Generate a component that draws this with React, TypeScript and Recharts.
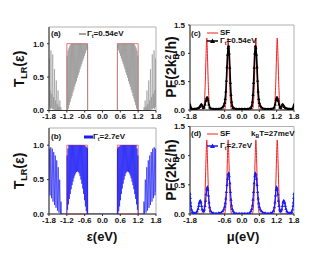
import React from 'react';
import { LineChart, Line, XAxis, YAxis, ReferenceArea } from 'recharts';

type Pt = [number, number];

// ---- axis ticks ----
const xTicks = [-1.8, -1.2, -0.6, 0, 0.6, 1.2, 1.8];
const tTicks = [0, 0.5, 1.0];
const pfTicks = [0, 0.5, 1.0, 1.5];

// ---- (a) T_LR(eps), Gamma_t = 0.54 eV ----
const aOuterLeft: Pt[] = [
  [-1.8, 0.25], [-1.79, 0.78], [-1.78, 0.05], [-1.765, 0.3], [-1.75, 0.02], [-1.735, 0.9], [-1.72, 0.04],
  [-1.705, 0.25], [-1.69, 0.02], [-1.675, 0.84], [-1.66, 0.02], [-1.645, 0.2], [-1.63, 0.01], [-1.615, 0.62],
  [-1.6, 0.01], [-1.585, 0.15], [-1.57, 0], [-1.555, 0.45], [-1.54, 0], [-1.525, 0.1], [-1.51, 0],
  [-1.495, 0.3], [-1.48, 0], [-1.465, 0.06], [-1.45, 0], [-1.435, 0.15], [-1.42, 0], [-1.4, 0.05], [-1.38, 0],
];
const aWindowLeft: Pt[] = [
  [-1.2, 0], [-1.19, 0.82], [-1.175, 0], [-1.16, 0.9], [-1.145, 0.03], [-1.13, 0.94], [-1.115, 0.08], [-1.1, 0.97],
  [-1.085, 0.13], [-1.07, 0.99], [-1.055, 0.18], [-1.04, 1.0], [-1.025, 0.22], [-1.01, 1.0], [-0.995, 0.27],
  [-0.98, 1.0], [-0.965, 0.31], [-0.95, 1.0], [-0.935, 0.36], [-0.92, 1.0], [-0.905, 0.4], [-0.89, 1.0],
  [-0.875, 0.44], [-0.86, 1.0], [-0.845, 0.49], [-0.83, 1.0], [-0.815, 0.53], [-0.8, 1.0], [-0.785, 0.57],
  [-0.77, 1.0], [-0.755, 0.62], [-0.74, 1.0], [-0.725, 0.66], [-0.71, 1.0], [-0.695, 0.7], [-0.68, 1.0],
  [-0.665, 0.74], [-0.65, 1.0], [-0.635, 0.78], [-0.62, 1.0], [-0.605, 0.82], [-0.59, 1.0], [-0.575, 0.86],
  [-0.56, 1.0], [-0.545, 0.9], [-0.53, 1.0], [-0.515, 0.93], [-0.505, 0.99], [-0.5, 0],
];
const aWindowRight: Pt[] = [
  [0.5, 0], [0.505, 0.99], [0.515, 0.93], [0.53, 1.0], [0.545, 0.9], [0.56, 1.0], [0.575, 0.86], [0.59, 1.0],
  [0.605, 0.82], [0.62, 1.0], [0.635, 0.78], [0.65, 1.0], [0.665, 0.74], [0.68, 1.0], [0.695, 0.7], [0.71, 1.0],
  [0.725, 0.66], [0.74, 1.0], [0.755, 0.62], [0.77, 1.0], [0.785, 0.57], [0.8, 1.0], [0.815, 0.53], [0.83, 1.0],
  [0.845, 0.49], [0.86, 1.0], [0.875, 0.44], [0.89, 1.0], [0.905, 0.4], [0.92, 1.0], [0.935, 0.36], [0.95, 1.0],
  [0.965, 0.31], [0.98, 1.0], [0.995, 0.27], [1.01, 1.0], [1.025, 0.22], [1.04, 1.0], [1.055, 0.18], [1.07, 0.99],
  [1.085, 0.13], [1.1, 0.97], [1.115, 0.08], [1.13, 0.94], [1.145, 0.03], [1.16, 0.9], [1.175, 0], [1.19, 0.82],
  [1.2, 0],
];
const aOuterRight: Pt[] = [
  [1.38, 0], [1.4, 0.05], [1.42, 0], [1.435, 0.15], [1.45, 0], [1.465, 0.06], [1.48, 0], [1.495, 0.3],
  [1.51, 0], [1.525, 0.1], [1.54, 0], [1.555, 0.45], [1.57, 0], [1.585, 0.15], [1.6, 0.01], [1.615, 0.62],
  [1.63, 0.01], [1.645, 0.2], [1.66, 0.02], [1.675, 0.84], [1.69, 0.02], [1.705, 0.25], [1.72, 0.04],
  [1.735, 0.9], [1.75, 0.02], [1.765, 0.3], [1.78, 0.05], [1.79, 0.78], [1.8, 0.25],
];

// ---- (b) T_LR(eps), Gamma_t = 2.7 eV ----
const bOuterLeft: Pt[] = [
  [-1.8, 0.32], [-1.79, 0.95], [-1.765, 0.27], [-1.74, 0.97], [-1.715, 0.23], [-1.69, 0.95], [-1.665, 0.18],
  [-1.64, 0.9], [-1.615, 0.13], [-1.59, 0.85], [-1.565, 0.09], [-1.54, 0.78], [-1.515, 0.05], [-1.49, 0.68],
  [-1.465, 0.02], [-1.44, 0.5], [-1.415, 0], [-1.395, 0.18], [-1.38, 0],
];
const bWindowLeft: Pt[] = [
  [-1.2, 0], [-1.19, 0.85], [-1.175, 0.06], [-1.16, 0.95], [-1.145, 0.14], [-1.13, 1.0], [-1.115, 0.22],
  [-1.1, 1.0], [-1.085, 0.29], [-1.07, 1.0], [-1.055, 0.36], [-1.04, 1.0], [-1.025, 0.42], [-1.01, 1.0],
  [-0.995, 0.47], [-0.98, 1.0], [-0.965, 0.52], [-0.95, 1.0], [-0.935, 0.56], [-0.92, 1.0], [-0.905, 0.59],
  [-0.89, 1.0], [-0.875, 0.61], [-0.86, 1.0], [-0.845, 0.62], [-0.83, 1.0], [-0.815, 0.61], [-0.8, 1.0],
  [-0.785, 0.59], [-0.77, 1.0], [-0.755, 0.55], [-0.74, 1.0], [-0.725, 0.5], [-0.71, 1.0], [-0.695, 0.44],
  [-0.68, 1.0], [-0.665, 0.37], [-0.65, 1.0], [-0.635, 0.29], [-0.62, 1.0], [-0.605, 0.2], [-0.59, 0.99],
  [-0.575, 0.11], [-0.56, 0.98], [-0.545, 0.04], [-0.53, 0.97], [-0.515, 0], [-0.505, 0.95], [-0.5, 0],
];
const bWindowRight: Pt[] = [
  [0.5, 0], [0.505, 0.95], [0.515, 0], [0.53, 0.97], [0.545, 0.04], [0.56, 0.98], [0.575, 0.11], [0.59, 0.99],
  [0.605, 0.2], [0.62, 1.0], [0.635, 0.29], [0.65, 1.0], [0.665, 0.37], [0.68, 1.0], [0.695, 0.44], [0.71, 1.0],
  [0.725, 0.5], [0.74, 1.0], [0.755, 0.55], [0.77, 1.0], [0.785, 0.59], [0.8, 1.0], [0.815, 0.61], [0.83, 1.0],
  [0.845, 0.62], [0.86, 1.0], [0.875, 0.61], [0.89, 1.0], [0.905, 0.59], [0.92, 1.0], [0.935, 0.56], [0.95, 1.0],
  [0.965, 0.52], [0.98, 1.0], [0.995, 0.47], [1.01, 1.0], [1.025, 0.42], [1.04, 1.0], [1.055, 0.36], [1.07, 1.0],
  [1.085, 0.29], [1.1, 1.0], [1.115, 0.22], [1.13, 1.0], [1.145, 0.14], [1.16, 0.95], [1.175, 0.06], [1.19, 0.85],
  [1.2, 0],
];
const bOuterRight: Pt[] = [
  [1.38, 0], [1.395, 0.18], [1.415, 0], [1.44, 0.5], [1.465, 0.02], [1.49, 0.68], [1.515, 0.05], [1.54, 0.78],
  [1.565, 0.09], [1.59, 0.85], [1.615, 0.13], [1.64, 0.9], [1.665, 0.18], [1.69, 0.95], [1.715, 0.23],
  [1.74, 0.97], [1.765, 0.27], [1.79, 0.95], [1.8, 0.32],
];

// ---- (c),(d) power factor, SF reference ----
const pfSF: Pt[] = [
  [-1.8, 0], [-1.36, 0], [-1.33, 0.02], [-1.3, 0.15], [-1.27, 0.5], [-1.245, 0.95], [-1.22, 1.27], [-1.195, 0.95],
  [-1.17, 0.5], [-1.14, 0.15], [-1.11, 0.02], [-1.08, 0], [-0.62, 0], [-0.59, 0.02], [-0.56, 0.15], [-0.53, 0.5],
  [-0.505, 0.95], [-0.48, 1.27], [-0.455, 0.95], [-0.43, 0.5], [-0.4, 0.15], [-0.37, 0.02], [-0.34, 0],
  [0.34, 0], [0.37, 0.02], [0.4, 0.15], [0.43, 0.5], [0.455, 0.95], [0.48, 1.27], [0.505, 0.95], [0.53, 0.5],
  [0.56, 0.15], [0.59, 0.02], [0.62, 0], [1.08, 0], [1.11, 0.02], [1.14, 0.15], [1.17, 0.5], [1.195, 0.95],
  [1.22, 1.27], [1.245, 0.95], [1.27, 0.5], [1.3, 0.15], [1.33, 0.02], [1.36, 0], [1.8, 0],
];

// ---- (c) PF, Gamma_t = 0.54 eV ----
const pfC: Pt[] = [
  [-1.8, 0.1], [-1.79, 0.07], [-1.77, 0.04], [-1.74, 0.02], [-1.7, 0.02], [-1.65, 0.02], [-1.6, 0.02],
  [-1.55, 0.03], [-1.5, 0.04], [-1.46, 0.06], [-1.43, 0.09], [-1.4, 0.1], [-1.37, 0.07], [-1.34, 0.04],
  [-1.31, 0.05], [-1.28, 0.1], [-1.25, 0.17], [-1.22, 0.22], [-1.2, 0.22], [-1.18, 0.18], [-1.15, 0.1],
  [-1.12, 0.05], [-1.08, 0.03], [-1.0, 0.02], [-0.9, 0.02], [-0.8, 0.02], [-0.72, 0.03], [-0.67, 0.05],
  [-0.63, 0.08], [-0.6, 0.13], [-0.58, 0.2], [-0.56, 0.33], [-0.54, 0.52], [-0.52, 0.76], [-0.5, 0.98],
  [-0.48, 1.1], [-0.46, 1.13], [-0.44, 1.0], [-0.42, 0.75], [-0.4, 0.48], [-0.38, 0.27], [-0.36, 0.15],
  [-0.34, 0.08], [-0.31, 0.04], [-0.27, 0.03], [-0.2, 0.02], [-0.1, 0.02], [0, 0.02],
  [0.1, 0.02], [0.2, 0.02], [0.27, 0.03], [0.31, 0.04], [0.34, 0.08], [0.36, 0.15], [0.38, 0.27], [0.4, 0.48],
  [0.42, 0.75], [0.44, 1.0], [0.46, 1.13], [0.48, 1.1], [0.5, 0.98], [0.52, 0.76], [0.54, 0.52], [0.56, 0.33],
  [0.58, 0.2], [0.6, 0.13], [0.63, 0.08], [0.67, 0.05], [0.72, 0.03], [0.8, 0.02], [0.9, 0.02], [1.0, 0.02],
  [1.08, 0.03], [1.12, 0.05], [1.15, 0.1], [1.18, 0.18], [1.2, 0.22], [1.22, 0.22], [1.25, 0.17], [1.28, 0.1],
  [1.31, 0.05], [1.34, 0.04], [1.37, 0.07], [1.4, 0.1], [1.43, 0.09], [1.46, 0.06], [1.5, 0.04], [1.55, 0.03],
  [1.6, 0.02], [1.65, 0.02], [1.7, 0.02], [1.74, 0.02], [1.77, 0.04], [1.79, 0.07], [1.8, 0.1],
];

// ---- (d) PF, Gamma_t = 2.7 eV ----
const pfD: Pt[] = [
  [-1.8, 0.35], [-1.79, 0.28], [-1.78, 0.2], [-1.77, 0.14], [-1.75, 0.08], [-1.72, 0.04], [-1.68, 0.02],
  [-1.63, 0.02], [-1.58, 0.03], [-1.55, 0.05], [-1.52, 0.09], [-1.5, 0.14], [-1.48, 0.19], [-1.46, 0.22],
  [-1.44, 0.23], [-1.42, 0.2], [-1.4, 0.14], [-1.38, 0.08], [-1.35, 0.05], [-1.32, 0.05], [-1.3, 0.08],
  [-1.28, 0.14], [-1.26, 0.23], [-1.24, 0.34], [-1.22, 0.43], [-1.2, 0.46], [-1.18, 0.42], [-1.16, 0.32],
  [-1.14, 0.2], [-1.12, 0.12], [-1.09, 0.06], [-1.05, 0.03], [-1.0, 0.02], [-0.9, 0.01], [-0.8, 0.02],
  [-0.72, 0.03], [-0.67, 0.05], [-0.63, 0.08], [-0.6, 0.13], [-0.58, 0.19], [-0.56, 0.27], [-0.54, 0.38],
  [-0.52, 0.5], [-0.5, 0.61], [-0.48, 0.68], [-0.46, 0.7], [-0.44, 0.65], [-0.42, 0.53], [-0.4, 0.38],
  [-0.38, 0.25], [-0.36, 0.15], [-0.34, 0.09], [-0.31, 0.05], [-0.27, 0.02], [-0.2, 0.01], [-0.1, 0.01], [0, 0.01],
  [0.1, 0.01], [0.2, 0.01], [0.27, 0.02], [0.31, 0.05], [0.34, 0.09], [0.36, 0.15], [0.38, 0.25], [0.4, 0.38],
  [0.42, 0.53], [0.44, 0.65], [0.46, 0.7], [0.48, 0.68], [0.5, 0.61], [0.52, 0.5], [0.54, 0.38], [0.56, 0.27],
  [0.58, 0.19], [0.6, 0.13], [0.63, 0.08], [0.67, 0.05], [0.72, 0.03], [0.8, 0.02], [0.9, 0.01], [1.0, 0.02],
  [1.05, 0.03], [1.09, 0.06], [1.12, 0.12], [1.14, 0.2], [1.16, 0.32], [1.18, 0.42], [1.2, 0.46], [1.22, 0.43],
  [1.24, 0.34], [1.26, 0.23], [1.28, 0.14], [1.3, 0.08], [1.32, 0.05], [1.35, 0.05], [1.38, 0.08], [1.4, 0.14],
  [1.42, 0.2], [1.44, 0.23], [1.46, 0.22], [1.48, 0.19], [1.5, 0.14], [1.52, 0.09], [1.55, 0.05], [1.58, 0.03],
  [1.63, 0.02], [1.68, 0.02], [1.72, 0.04], [1.75, 0.08], [1.77, 0.14], [1.78, 0.2], [1.79, 0.28], [1.8, 0.35],
];

const rows = (pts: Pt[]) => pts.map(([x, y]) => ({ x, y }));

const tRowsA = rows([...aOuterLeft, ...aWindowLeft, ...aWindowRight, ...aOuterRight]);
const tRowsB = rows([...bOuterLeft, ...bWindowLeft, ...bWindowRight, ...bOuterRight]);
const sfRows = rows(pfSF);
const cRows = rows(pfC);
const dRows = rows(pfD);

const font = '"Liberation Sans", Arial, Helvetica, sans-serif';
const tickStyle = { fontSize: 8, fontWeight: 700, fill: '#111', fontFamily: font };
const fmt = (v: number) => v.toFixed(1);

const triangle = (color: string, s: number) => (props: any) => {
  const { cx, cy, index } = props;
  if (cx == null || cy == null) return <g key={`t${index}`} />;
  return (
    <path
      key={`t${index}`}
      d={`M${cx},${cy - s}L${cx + s},${cy + s * 0.8}L${cx - s},${cy + s * 0.8}Z`}
      fill={color}
    />
  );
};

const txt: React.CSSProperties = {
  position: 'absolute',
  fontFamily: font,
  fontWeight: 700,
  fontSize: 8,
  color: '#111',
  whiteSpace: 'nowrap',
  lineHeight: 1,
};

const Sub = ({ children }: { children: React.ReactNode }) => (
  <span style={{ fontSize: '0.65em', position: 'relative', top: '0.3em' }}>{children}</span>
);

const Gamma = ({ v }: { v: string }) => (
  <>
    Γ<Sub>t</Sub>={v}
  </>
);

const TLabel = ({ cx, cy }: { cx: number; cy: number }) => (
  <div style={{ ...txt, fontSize: 14, left: cx, top: cy, transform: 'translate(-50%, -50%) rotate(-90deg)' }}>
    T<Sub>LR</Sub>(ε)
  </div>
);

const PFLabel = ({ cx, cy }: { cx: number; cy: number }) => (
  <div style={{ ...txt, fontSize: 14, left: cx, top: cy, transform: 'translate(-50%, -50%) rotate(-90deg)' }}>
    PF(2k
    <span style={{ display: 'inline-flex', flexDirection: 'column', fontSize: '0.6em', lineHeight: 0.95, verticalAlign: 'middle' }}>
      <span>2</span>
      <span>B</span>
    </span>
    /h)
  </div>
);

const LineSample = ({ left, top, color, w, thick, tri }: { left: number; top: number; color: string; w: number; thick: number; tri?: boolean }) => (
  <svg style={{ position: 'absolute', left, top: top - 4 }} width={w} height={8}>
    <line x1={0} y1={4} x2={w} y2={4} stroke={color} strokeWidth={thick} />
    {tri && <path d={`M${w / 2},1.5L${w / 2 + 2.5},6L${w / 2 - 2.5},6Z`} fill={color} />}
  </svg>
);

export default function App() {
  return (
    <div style={{ position: 'absolute', left: 0, top: 0, width: 330, height: 254, background: '#fff', overflow: 'hidden' }}>
      {/* (a) */}
      <div style={{ position: 'absolute', left: 0, top: 0 }}>
        <LineChart width={165} height={125} margin={{ top: 27, right: 9, bottom: 0, left: 0 }}>
          <ReferenceArea x1={-1.8} x2={1.8} y1={0} y2={1.25} fill="none" stroke="#b0b0b0" />
          <XAxis type="number" dataKey="x" domain={[-1.8, 1.8]} ticks={xTicks} tickFormatter={fmt} height={14.5}
            tickSize={2} tickMargin={1} tick={tickStyle} stroke="#333" allowDataOverflow />
          <YAxis type="number" domain={[0, 1.25]} ticks={tTicks} tickFormatter={fmt} width={49}
            tickSize={2} tickMargin={3} tick={tickStyle} stroke="#333" allowDataOverflow />
          <Line data={tRowsA} dataKey="y" type="linear" stroke="#8c8c8c" strokeWidth={0.55} dot={false} isAnimationActive={false} />
          <ReferenceArea x1={-1.2} x2={-0.5} y1={0} y2={1} fill="none" stroke="#f07070" strokeWidth={1} />
          <ReferenceArea x1={0.5} x2={1.2} y1={0} y2={1} fill="none" stroke="#f07070" strokeWidth={1} />
        </LineChart>
      </div>

      {/* (b) */}
      <div style={{ position: 'absolute', left: 0, top: 113 }}>
        <LineChart width={165} height={115} margin={{ top: 15, right: 9, bottom: 0, left: 0 }}>
          <ReferenceArea x1={-1.8} x2={1.8} y1={0} y2={1.25} fill="none" stroke="#b0b0b0" />
          <XAxis type="number" dataKey="x" domain={[-1.8, 1.8]} ticks={xTicks} tickFormatter={fmt} height={14}
            tickSize={2} tickMargin={1} tick={tickStyle} stroke="#333" allowDataOverflow />
          <YAxis type="number" domain={[0, 1.25]} ticks={tTicks} tickFormatter={fmt} width={49}
            tickSize={2} tickMargin={3} tick={tickStyle} stroke="#333" allowDataOverflow />
          <Line data={tRowsB} dataKey="y" type="linear" stroke="#1a1af5" strokeWidth={0.65} dot={false} isAnimationActive={false} />
          <ReferenceArea x1={-1.2} x2={-0.5} y1={0} y2={1} fill="none" stroke="#f07070" strokeWidth={1} />
          <ReferenceArea x1={0.5} x2={1.2} y1={0} y2={1} fill="none" stroke="#f07070" strokeWidth={1} />
        </LineChart>
      </div>

      {/* (c) */}
      <div style={{ position: 'absolute', left: 165, top: 0 }}>
        <LineChart width={165} height={125} margin={{ top: 25, right: 36, bottom: 0, left: 0 }}>
          <ReferenceArea x1={-1.8} x2={1.8} y1={0} y2={1.5} fill="none" stroke="#b0b0b0" />
          <XAxis type="number" dataKey="x" domain={[-1.8, 1.8]} ticks={xTicks} tickFormatter={fmt} height={15}
            tickSize={2} tickMargin={1} tick={tickStyle} stroke="#333" allowDataOverflow />
          <YAxis type="number" domain={[0, 1.5]} ticks={pfTicks} tickFormatter={fmt} width={25}
            tickSize={2} tickMargin={3} tick={tickStyle} stroke="#333" allowDataOverflow />
          <Line data={sfRows} dataKey="y" type="monotone" stroke="#f02020" strokeWidth={1} dot={false} isAnimationActive={false} />
          <Line data={cRows} dataKey="y" type="linear" stroke="#000" strokeWidth={1.6} dot={triangle('#000', 1.6)} isAnimationActive={false} />
        </LineChart>
      </div>

      {/* (d) */}
      <div style={{ position: 'absolute', left: 165, top: 113 }}>
        <LineChart width={165} height={115} margin={{ top: 13.5, right: 36, bottom: 0, left: 0 }}>
          <ReferenceArea x1={-1.8} x2={1.8} y1={0} y2={1.5} fill="none" stroke="#b0b0b0" />
          <XAxis type="number" dataKey="x" domain={[-1.8, 1.8]} ticks={xTicks} tickFormatter={fmt} height={14}
            tickSize={2} tickMargin={1} tick={tickStyle} stroke="#333" allowDataOverflow />
          <YAxis type="number" domain={[0, 1.5]} ticks={pfTicks} tickFormatter={fmt} width={25}
            tickSize={2} tickMargin={3} tick={tickStyle} stroke="#333" allowDataOverflow />
          <Line data={sfRows} dataKey="y" type="monotone" stroke="#f02020" strokeWidth={1} dot={false} isAnimationActive={false} />
          <Line data={dRows} dataKey="y" type="linear" stroke="#1a1af5" strokeWidth={1.2} dot={triangle('#1a1af5', 1.6)} isAnimationActive={false} />
        </LineChart>
      </div>

      {/* axis titles */}
      <TLabel cx={19} cy={69} />
      <TLabel cx={19} cy={171} />
      <PFLabel cx={172} cy={67} />
      <PFLabel cx={172} cy={170} />
      <div style={{ ...txt, fontSize: 13, left: 102, top: 236, transform: 'translate(-50%, -50%)' }}>ε(eV)</div>
      <div style={{ ...txt, fontSize: 13, left: 243, top: 236, transform: 'translate(-50%, -50%)' }}>μ(eV)</div>

      {/* panel legends */}
      <div style={{ ...txt, left: 51, top: 30 }}>(a)</div>
      <LineSample left={79} top={34} color="#444" w={7} thick={1} />
      <div style={{ ...txt, left: 87, top: 30 }}><Gamma v="0.54eV" /></div>

      <div style={{ ...txt, left: 51, top: 133 }}>(b)</div>
      <LineSample left={84} top={137} color="#1a1af5" w={9} thick={3} />
      <div style={{ ...txt, left: 93, top: 133 }}><Gamma v="2.7eV" /></div>

      <div style={{ ...txt, left: 191, top: 30 }}>(c)</div>
      <LineSample left={207} top={33} color="#f02020" w={11} thick={1} />
      <div style={{ ...txt, left: 220, top: 29 }}>SF</div>
      <LineSample left={207} top={41} color="#000" w={11} thick={1.5} tri />
      <div style={{ ...txt, left: 220, top: 37 }}><Gamma v="0.54eV" /></div>

      <div style={{ ...txt, left: 191, top: 130 }}>(d)</div>
      <LineSample left={207} top={134} color="#f02020" w={11} thick={1} />
      <div style={{ ...txt, left: 220, top: 130 }}>SF</div>
      <div style={{ ...txt, left: 251, top: 130 }}>k<Sub>B</Sub>T=27meV</div>
      <LineSample left={207} top={146} color="#1a1af5" w={11} thick={1.5} tri />
      <div style={{ ...txt, left: 220, top: 142 }}><Gamma v="2.7eV" /></div>
    </div>
  );
}
